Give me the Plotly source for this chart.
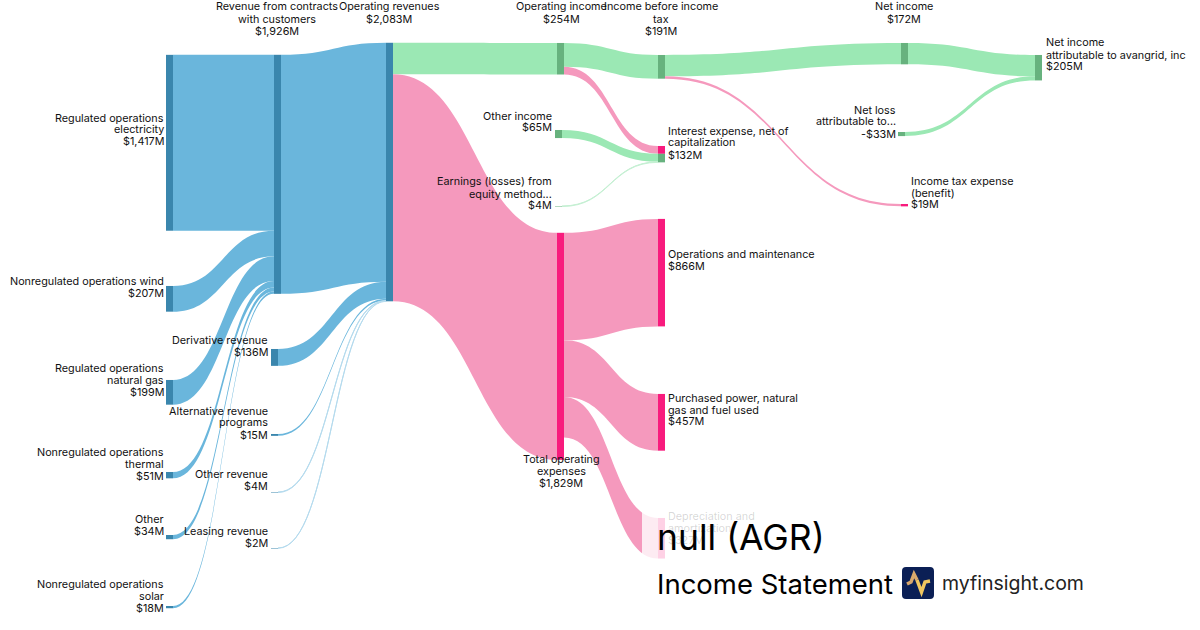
import plotly.graph_objects as go

W, H = 1200, 630
THICK = 7
FONT = "Inter"

node_names = ["Regulated operations|electricity", "Nonregulated operations wind",
    "Regulated operations|natural gas", "Nonregulated operations|thermal", "Other",
    "Nonregulated operations|solar", "Revenue from contracts|with customers",
    "Derivative revenue", "Alternative revenue|programs", "Other revenue", "Leasing revenue",
    "Operating revenues", "Operating income", "Total operating|expenses", "Other income",
    "Earnings (losses) from|equity method...", "Interest expense, net of|capitalization",
    "Operations and maintenance", "Purchased power, natural|gas and fuel used",
    "Depreciation and|amortization", "Income before income|tax", "Income tax expense|(benefit)",
    "Net loss|attributable to...", "Net income", "Net income|attributable to avangrid, inc",
    ""]
node_values = ["$1,417M", "$207M", "$199M", "$51M", "$34M", "$18M", "$1,926M", "$136M", "$15M", "$4M",
    "$2M", "$2,083M", "$254M", "$1,829M", "$65M", "$4M", "$132M", "$866M", "$457M", "$327M", "$191M",
    "$19M", "-$33M", "$172M", "$205M", ""]
node_kinds = ["b"] * 12 + ["g", "p", "g", "g", "p", "p", "p", "p", "g", "p", "g", "g", "g", "g"]

link_source = [0, 1, 2, 3, 4, 5, 6, 7, 8, 9, 10, 11, 11, 12, 12, 14, 15, 13, 13, 13, 20, 20, 23, 22]
link_target = [6, 6, 6, 6, 6, 6, 11, 11, 11, 11, 11, 12, 13, 20, 16, 25, 25, 17, 18, 19, 23, 21, 24, 24]
link_value = [1417, 207, 199, 51, 34, 18, 1926, 136, 15, 4, 2, 254, 1829, 191, 63, 65, 4, 866, 457, 327, 172, 19, 172, 33]

# layout (pixels)
node_left = [166, 166, 166, 166, 166, 166, 274, 271, 271, 271, 271, 386, 557, 557, 555, 555, 658, 658, 658, 658, 658, 901, 898, 901, 1035, 658]
node_top = [55, 286, 380, 472, 535, 606, 55, 349, 434, 492, 548, 43, 43, 233, 130, 206, 146, 219, 394, 518, 55, 204, 132, 43, 55, 153.8]
# label: x, anchor, first-line centre y
label_pos = [(164, "right", 118), (164, "right", 281), (164, "right", 368), (164, "right", 452), (164, "right", 519),
    (164, "right", 584), (277, "center", 7), (268, "right", 340), (268, "right", 411), (268, "right", 474),
    (268, "right", 531), (389, "center", 7), (561, "center", 7), (561, "center", 459), (552, "right", 116),
    (552, "right", 182), (668, "left", 131), (668, "left", 254), (668, "left", 398), (668, "left", 516),
    (661, "center", 7), (911, "left", 181), (895.5, "right", 110), (904, "center", 7), (1046, "left", 43), (0, "left", 0)]

NODE_COL = {"b": "#3a86ad", "g": "#67b27e", "p": "#f81b7d"}
LINK_COL = {"b": "#6ab6dc", "g": "#9be8b4", "p": "#f599bd"}
THIN_COL = {"b": "#b5dbee", "g": "#c5f0d3", "p": "#f9c5da"}
link_kinds = ["b"] * 11 + ["g", "p", "g", "p", "g", "g", "p", "p", "p", "g", "p", "g", "g"]
link_colors = [(THIN_COL if v <= 4 else LINK_COL)[k] for k, v in zip(link_kinds, link_value)]

PX_PER_VALUE = 0.1239
tot_in = [0] * len(node_names)
tot_out = [0] * len(node_names)
for s, t, v in zip(link_source, link_target, link_value):
    tot_out[s] += v
    tot_in[t] += v
heights = [max(a, b) * PX_PER_VALUE for a, b in zip(tot_in, tot_out)]
nx = [(l + THICK / 2) / W for l in node_left]
ny = [(t + h / 2) / H for t, h in zip(node_top, heights)]

fig = go.Figure(go.Sankey(
    arrangement="fixed",
    domain=dict(x=[0, 1], y=[0, 1]),
    node=dict(x=nx, y=ny, pad=29.9, thickness=THICK, label=[""] * len(node_names),
              color=[NODE_COL[k] for k in node_kinds], line=dict(width=0)),
    link=dict(source=link_source, target=link_target, value=link_value,
              color=link_colors, line=dict(width=0)),
    textfont=dict(size=1, color="rgba(0,0,0,0)"),
))

def X(p): return p / W
def Y(p): return 1 - p / H

ann = []
def add_text(text, x, y, size, anchor="left", color="#111"):
    ann.append(dict(text=text, x=X(x), y=Y(y), xref="paper", yref="paper", xanchor=anchor, yanchor="middle",
                    showarrow=False, font=dict(family=FONT, size=size, color=color), borderpad=0, borderwidth=0))

for name, val, (lx, anchor, ly) in zip(node_names, node_values, label_pos):
    if not name:
        continue
    color = "rgba(17,17,17,0.18)" if name.startswith("Depreciation") else "#111"
    for j, line in enumerate(name.split("|") + [val]):
        add_text(line, lx, ly + 12 * j, 10.8, anchor, color)

add_text("null (AGR)", 657, 537, 35.5, "left", "#000")
add_text("Income Statement", 657, 584, 27.5, "left", "#000")
add_text("myfinsight.com", 942, 583, 19.5, "left", "#222")

def pth(points):
    return "M" + " L".join(f"{X(a):.5f},{Y(b):.5f}" for a, b in points)

def rounded(x0, y0, x1, y1, r):
    return (f"M{X(x0 + r):.5f},{Y(y0):.5f} L{X(x1 - r):.5f},{Y(y0):.5f} Q{X(x1):.5f},{Y(y0):.5f} {X(x1):.5f},{Y(y0 + r):.5f} "
            f"L{X(x1):.5f},{Y(y1 - r):.5f} Q{X(x1):.5f},{Y(y1):.5f} {X(x1 - r):.5f},{Y(y1):.5f} "
            f"L{X(x0 + r):.5f},{Y(y1):.5f} Q{X(x0):.5f},{Y(y1):.5f} {X(x0):.5f},{Y(y1 - r):.5f} "
            f"L{X(x0):.5f},{Y(y0 + r):.5f} Q{X(x0):.5f},{Y(y0):.5f} {X(x0 + r):.5f},{Y(y0):.5f} Z")

def seg(points, color):
    return dict(type="path", xref="paper", yref="paper", path=pth(points), line=dict(color=color, width=3.5), layer="above")

shapes = [
    dict(type="rect", xref="paper", yref="paper", x0=X(642), x1=X(1200), y0=Y(505), y1=Y(630),
         fillcolor="rgba(255,255,255,0.8)", line_width=0, layer="above"),
    dict(type="path", xref="paper", yref="paper", path=rounded(902, 567, 934, 599, 4),
         fillcolor="#0b1f55", line_width=0, layer="above"),
    seg([(907, 584), (911, 582), (914, 574), (917, 580)], "#d9a86c"),
    seg([(917, 580), (921.5, 592), (925, 582), (930, 581)], "#f0c660"),
]

fig.update_layout(width=W, height=H, margin=dict(l=0, r=0, t=0, b=0), paper_bgcolor="white",
                  annotations=ann, shapes=shapes, font=dict(family=FONT), showlegend=False)
fig.write_html("out.html", config={"displayModeBar": False},
               post_script="document.body.style.margin='0';window.dispatchEvent(new Event('resize'));")
